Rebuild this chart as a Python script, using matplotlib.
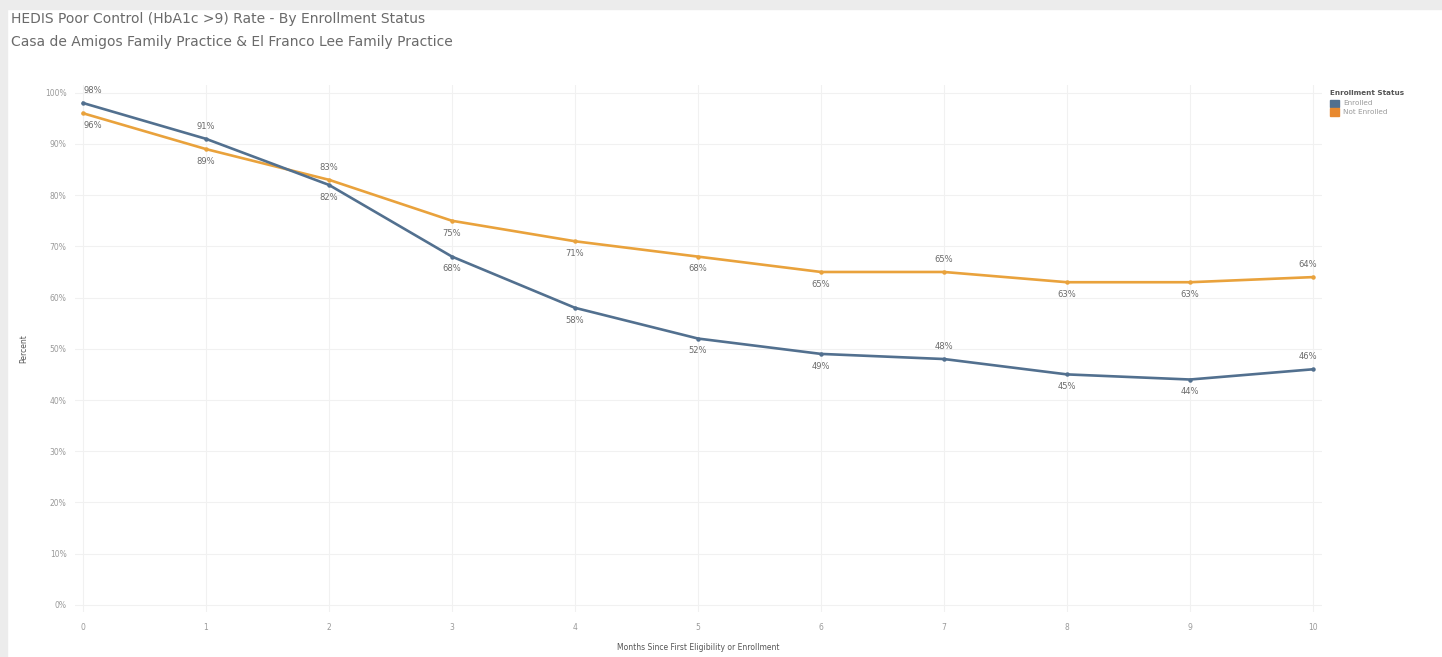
import matplotlib

matplotlib.use("Agg")
import matplotlib.pyplot as plt
from matplotlib.patches import Rectangle

months = list(range(11))
enrolled = [98, 91, 82, 68, 58, 52, 49, 48, 45, 44, 46]
not_enrolled = [96, 89, 83, 75, 71, 68, 65, 65, 63, 63, 64]

# label placement per point: +1 above the line, -1 below
enrolled_side = [1, 1, -1, -1, -1, -1, -1, 1, -1, -1, 1]
not_enrolled_side = [-1, -1, 1, -1, -1, -1, -1, 1, -1, -1, 1]

y_ticks = list(range(0, 101, 10))
series_names = ["Enrolled", "Not Enrolled"]

BLUE = "#52708f"
ORANGE = "#e9a23c"
LEGEND_ORANGE = "#e8892f"
TEXT = "#6a6a6a"
TICK = "#9a9a9a"

fig = plt.figure(figsize=(14.42, 6.57), dpi=100)
fig.patch.set_facecolor("white")

# light frame along the top and left edges
fig.patches.append(Rectangle((0, 0.987), 1, 0.013, transform=fig.transFigure,
                             color="#ececec", zorder=0))
fig.patches.append(Rectangle((0, 0), 0.005, 1, transform=fig.transFigure,
                             color="#ececec", zorder=0))

fig.text(0.0075, 0.971, "HEDIS Poor Control (HbA1c >9) Rate - By Enrollment Status",
         fontsize=10, color=TEXT, va="center", ha="left")
fig.text(0.0075, 0.936, "Casa de Amigos Family Practice & El Franco Lee Family Practice",
         fontsize=10, color=TEXT, va="center", ha="left")

ax = fig.add_axes([0.052, 0.0685, 0.8648, 0.802])
ax.set_xlim(-0.065, 10.073)
ax.set_ylim(-1.4, 101.5)

for side in ax.spines.values():
    side.set_visible(False)

ax.set_yticks(y_ticks)
ax.set_yticklabels([f"{v}%" for v in y_ticks])
ax.set_xticks(months)
ax.tick_params(axis="both", length=0, labelsize=5.5, labelcolor=TICK)
ax.tick_params(axis="y", pad=6)
ax.tick_params(axis="x", pad=8)
ax.grid(True, color="#f1f1f1", linewidth=0.8)
ax.set_axisbelow(True)

ax.set_ylabel("Percent", fontsize=5.5, color="#555555", labelpad=12)
ax.set_xlabel("Months Since First Eligibility or Enrollment", fontsize=5.5,
              color="#555555", labelpad=8)

ax.plot(months, not_enrolled, color=ORANGE, linewidth=1.9, marker="o",
        markersize=2.2, zorder=3)
ax.plot(months, enrolled, color=BLUE, linewidth=1.9, marker="o",
        markersize=2.2, zorder=4)

for xs, ys, sides in [(months, enrolled, enrolled_side),
                      (months, not_enrolled, not_enrolled_side)]:
    for x, y, s in zip(xs, ys, sides):
        dx = 0.08 if x == 0 else (-0.04 if x == 10 else 0)
        ax.text(x + dx, y + s * 2.4, f"{y}%", fontsize=6, color=TEXT,
                ha="center", va="center", zorder=5)

# legend block in the top right corner
fig.text(0.922, 0.858, "Enrollment Status", fontsize=5.2, color="#555555",
         ha="left", va="center", fontweight="bold")
for i, (name, color) in enumerate(zip(series_names, [BLUE, LEGEND_ORANGE])):
    y0 = 0.843 - i * 0.0135
    fig.patches.append(Rectangle((0.9225, y0 - 0.0055), 0.0058, 0.011,
                                 transform=fig.transFigure, color=color))
    fig.text(0.9315, y0, name, fontsize=5.2, color=TICK, ha="left", va="center")

fig.savefig("out.png", dpi=100)
